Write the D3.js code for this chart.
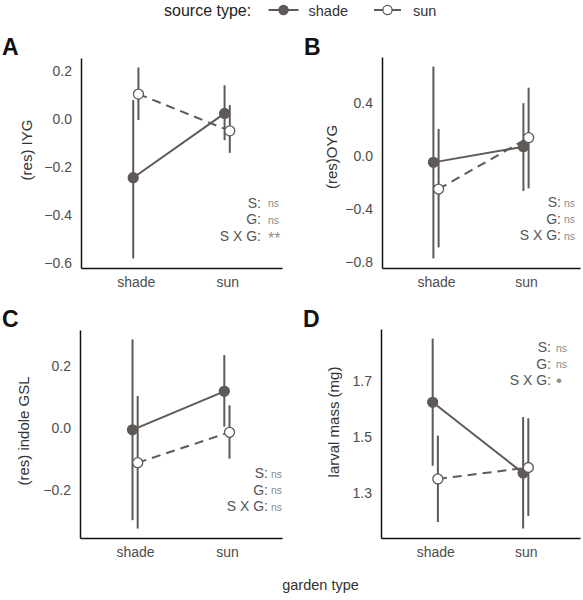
<!DOCTYPE html>
<html>
<head>
<meta charset="utf-8">
<script src="https://cdn.jsdelivr.net/npm/d3@7"></script>
<style>
  html, body { margin: 0; padding: 0; background: #fff; }
  svg { display: block; font-family: "Liberation Sans", Arial, Helvetica, sans-serif; }
</style>
</head>
<body>
<svg id="chart" width="583" height="600"></svg>
<script>
// ---------------- data ----------------
const gardenTypes = ["shade", "sun"];
const sourceTypes = ["shade", "sun"];
const panelLetters = ["A", "B", "C", "D"];
const yTitles = ["(res) IYG", "(res)OYG", "(res) indole GSL", "larval mass (mg)"];
const yTickValues = [
  [-0.6, -0.4, -0.2, 0.0, 0.2],
  [-0.8, -0.4, 0.0, 0.4],
  [-0.2, 0.0, 0.2],
  [1.3, 1.5, 1.7]
];
// per panel: [shade garden, sun garden]
const shadeMean = [[-0.245, 0.024], [-0.048, 0.070], [-0.006, 0.118], [1.623, 1.370]];
const shadeLo   = [[-0.583, -0.088], [-0.772, -0.264], [-0.297, 0.004], [1.396, 1.172]];
const shadeHi   = [[0.080, 0.142], [0.674, 0.398], [0.285, 0.235], [1.851, 1.570]];
const sunMean   = [[0.105, -0.049], [-0.249, 0.138], [-0.112, -0.014], [1.349, 1.390]];
const sunLo     = [[-0.004, -0.141], [-0.689, -0.244], [-0.324, -0.099], [1.195, 1.217]];
const sunHi     = [[0.216, 0.059], [0.204, 0.515], [0.103, 0.073], [1.504, 1.566]];
const statLabels = ["S:", "G:", "S X G:"];
const statValues = [["ns", "ns", "**"], ["ns", "ns", "ns"], ["ns", "ns", "ns"], ["ns", "ns", "\u2022"]];

// ---------------- layout ----------------
const panelBoxes = [
  { x0: 81, x1: 282, y0: 58, y1: 268 },
  { x0: 382, x1: 580, y0: 57, y1: 268 },
  { x0: 80, x1: 282, y0: 330, y1: 538 },
  { x0: 381, x1: 580, y0: 329, y1: 538 }
];
const letterPos = [{ x: 2, y: 55 }, { x: 304, y: 55 }, { x: 2, y: 327 }, { x: 303, y: 327 }];
const titlePos = [{ x: 32, y: 150 }, { x: 337, y: 157 }, { x: 29, y: 431 }, { x: 339, y: 422 }];
const statPos = [
  { xr: 261, gap: 7, y: 207.5 },
  { xr: 561, gap: 3, y: 207 },
  { xr: 268, gap: 3, y: 478 },
  { xr: 551, gap: 5, y: 352 }
];
const statStep = 16.5;
const dodge = 2.6;

const col = "#5f5957";
const svg = d3.select("#chart");

// ---------------- legend ----------------
const leg = svg.append("g");
leg.append("text").attr("x", 164).attr("y", 15.5).attr("font-size", 16).attr("fill", "#222")
  .text("source type:");
const legItems = [
  { key: sourceTypes[0], cx: 283.5, l0: 268.5, l1: 298.5, tx: 308.5, fill: col },
  { key: sourceTypes[1], cx: 387.5, l0: 374, l1: 401, tx: 413, fill: "#fff" }
];
legItems.forEach(it => {
  leg.append("line").attr("x1", it.l0).attr("x2", it.l1).attr("y1", 10).attr("y2", 10)
    .attr("stroke", col).attr("stroke-width", 2);
  leg.append("circle").attr("cx", it.cx).attr("cy", 10).attr("r", 4.6)
    .attr("fill", it.fill).attr("stroke", col).attr("stroke-width", 1.3);
  leg.append("text").attr("x", it.tx).attr("y", 15.5).attr("font-size", 14.5).attr("fill", "#333")
    .text(it.key);
});

// ---------------- panels ----------------
panelLetters.forEach((letter, i) => {
  const b = panelBoxes[i];
  const g = svg.append("g");

  const allLo = shadeLo[i].concat(sunLo[i]);
  const allHi = shadeHi[i].concat(sunHi[i]);
  const mn = d3.min(allLo), mx = d3.max(allHi);
  const pad = (mx - mn) * 0.05;

  const x = d3.scalePoint().domain(gardenTypes).range([b.x0, b.x1]).padding(0.6);
  const y = d3.scaleLinear().domain([mn - pad, mx + pad]).range([b.y1, b.y0]);

  // axes
  const yAxis = d3.axisLeft(y).tickValues(yTickValues[i]).tickSize(0).tickPadding(9)
    .tickFormat(d3.format(".1f"));
  const gy = g.append("g").attr("transform", `translate(${b.x0},0)`).call(yAxis);
  const xAxis = d3.axisBottom(x).tickSize(0).tickPadding(9);
  const gx = g.append("g").attr("transform", `translate(0,${b.y1})`).call(xAxis);
  [gy, gx].forEach(ax => {
    ax.select(".domain").attr("stroke", "#111").attr("stroke-width", 1.5);
    ax.selectAll("text").attr("font-size", 14).attr("fill", "#4d4d4d")
      .attr("font-family", "Liberation Sans, Arial, sans-serif");
  });
  gy.selectAll("text").text(d => d3.format(".1f")(d).replace("-", "\u2212"));

  // series
  const series = [
    { key: sourceTypes[0], mean: shadeMean[i], lo: shadeLo[i], hi: shadeHi[i], off: -dodge, fill: col, dash: null },
    { key: sourceTypes[1], mean: sunMean[i], lo: sunLo[i], hi: sunHi[i], off: dodge, fill: "#fff", dash: "9,6" }
  ];
  const pts = s => gardenTypes.map((gt, j) => ({ gt, m: s.mean[j], lo: s.lo[j], hi: s.hi[j], xx: x(gt) + s.off }));

  series.forEach(s => {
    g.selectAll(null).data(pts(s)).enter().append("line")
      .attr("x1", d => d.xx).attr("x2", d => d.xx)
      .attr("y1", d => y(d.lo)).attr("y2", d => y(d.hi))
      .attr("stroke", col).attr("stroke-width", 2);
  });
  series.forEach(s => {
    const line = d3.line().x(d => d.xx).y(d => y(d.m));
    g.append("path").datum(pts(s)).attr("d", line).attr("fill", "none")
      .attr("stroke", col).attr("stroke-width", 2)
      .attr("stroke-dasharray", s.dash);
  });
  series.forEach(s => {
    g.selectAll(null).data(pts(s)).enter().append("circle")
      .attr("cx", d => d.xx).attr("cy", d => y(d.m)).attr("r", 5)
      .attr("fill", s.fill).attr("stroke", col).attr("stroke-width", 1.3);
  });

  // panel letter
  svg.append("text").attr("x", letterPos[i].x).attr("y", letterPos[i].y)
    .attr("font-size", 23).attr("font-weight", "bold").attr("fill", "#111").text(letter);

  // y title
  svg.append("text")
    .attr("transform", `translate(${titlePos[i].x},${titlePos[i].y}) rotate(-90)`)
    .attr("text-anchor", "middle").attr("font-size", 15).attr("fill", "#333")
    .text(yTitles[i]);

  // stats
  const sp = statPos[i];
  statLabels.forEach((lab, k) => {
    const yy = sp.y + k * statStep;
    svg.append("text").attr("x", sp.xr).attr("y", yy).attr("text-anchor", "end")
      .attr("font-size", 14).attr("fill", "#555").text(lab);
    const v = statValues[i][k];
    const isNs = v === "ns";
    svg.append("text").attr("x", sp.xr + sp.gap).attr("y", isNs ? yy - 0.5 : (v === "**" ? yy + 3 : yy + 1))
      .attr("font-size", isNs ? 10.5 : (v === "**" ? 16 : 17))
      .attr("fill", isNs ? "#8a8a8a" : "#8f8f8f").text(v);
  });
});

// x title
svg.append("text").attr("x", 320.5).attr("y", 590).attr("text-anchor", "middle")
  .attr("font-size", 14.5).attr("fill", "#333").text("garden type");
</script>
</body>
</html>
